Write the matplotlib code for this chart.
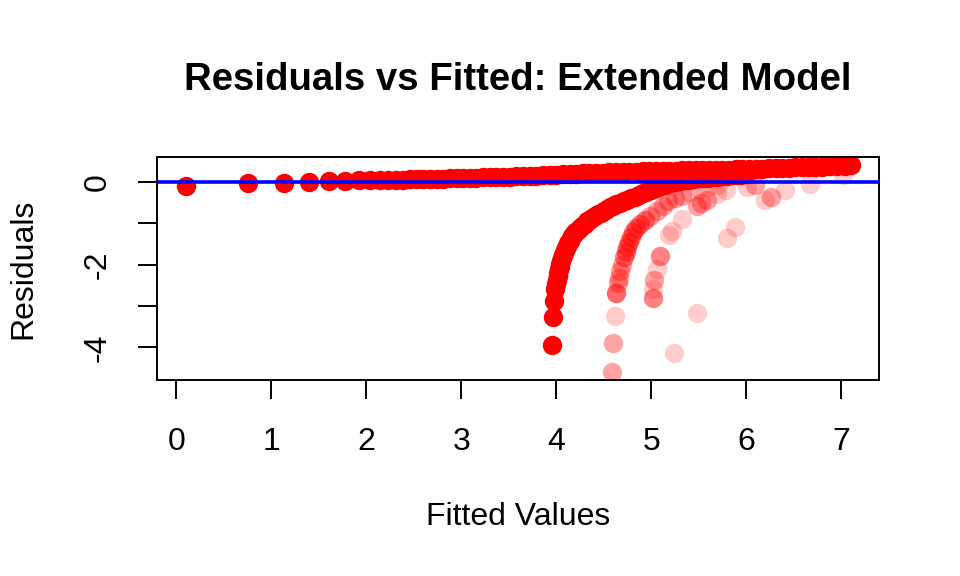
import matplotlib
matplotlib.use("Agg")
from matplotlib import pyplot as plt
import numpy as np

plt.rcParams['font.family'] = ['Liberation Sans', 'DejaVu Sans']

# upper branch (dense, drawn solid)
top_fitted = [0.10, 0.75, 1.13, 1.40, 1.61, 1.78, 1.92, 2.04, 2.14, 2.23,
              2.31, 2.39, 2.46, 2.53, 2.60, 2.67, 2.74, 2.81, 2.88, 2.95,
              3.02, 3.09, 3.16, 3.23, 3.30, 3.37, 3.44, 3.51, 3.58, 3.65,
              3.72, 3.79, 3.86, 3.93, 4.00, 4.07, 4.14, 4.21, 4.28, 4.35,
              4.42, 4.49, 4.56, 4.63, 4.70, 4.77, 4.84, 4.91, 4.98, 5.05,
              5.12, 5.19, 5.26, 5.33, 5.40, 5.47, 5.54, 5.61, 5.68, 5.75,
              5.82, 5.89, 5.96, 6.03, 6.10, 6.17, 6.24, 6.31, 6.38, 6.45,
              6.52, 6.59, 6.66, 6.73, 6.80, 6.88, 6.96, 7.04, 7.10]
top_resid = [-0.10, -0.04, -0.02, 0.00, 0.015, 0.02, 0.03, 0.035, 0.04, 0.045,
             0.05, 0.05, 0.055, 0.06, 0.06, 0.065, 0.07, 0.075, 0.08, 0.085,
             0.09, 0.095, 0.10, 0.105, 0.11, 0.115, 0.12, 0.125, 0.13, 0.135,
             0.14, 0.145, 0.15, 0.16, 0.165, 0.175, 0.185, 0.195, 0.20, 0.21,
             0.215, 0.22, 0.225, 0.23, 0.235, 0.24, 0.245, 0.25, 0.255, 0.26,
             0.265, 0.27, 0.27, 0.275, 0.275, 0.28, 0.28, 0.285, 0.285, 0.29,
             0.29, 0.295, 0.30, 0.305, 0.31, 0.315, 0.32, 0.325, 0.33, 0.34,
             0.345, 0.35, 0.355, 0.36, 0.365, 0.37, 0.375, 0.385, 0.40]

# lower main branch (dense, drawn solid)
low_fitted = [3.955, 3.965, 3.98, 3.99, 4.00, 4.01, 4.015, 4.02, 4.03, 4.035,
              4.045, 4.05, 4.06, 4.07, 4.08, 4.09, 4.10, 4.11, 4.125, 4.14,
              4.155, 4.17, 4.185, 4.20, 4.225, 4.25, 4.275, 4.30, 4.325, 4.35,
              4.38, 4.41, 4.44, 4.47, 4.50, 4.53, 4.565, 4.60, 4.635, 4.67,
              4.71, 4.75, 4.79, 4.83, 4.87, 4.91, 4.95, 5.00, 5.05, 5.10,
              5.15, 5.20, 5.25, 5.30, 5.35, 5.40, 5.45, 5.50, 5.55, 5.60,
              5.65, 5.70, 5.75, 5.80, 5.85, 5.90, 5.95, 6.00]
low_resid = [-3.94, -3.26, -2.87, -2.60, -2.48, -2.37, -2.28, -2.20, -2.12, -2.05,
             -1.98, -1.92, -1.85, -1.78, -1.72, -1.66, -1.61, -1.56, -1.49, -1.43,
             -1.37, -1.32, -1.27, -1.22, -1.16, -1.11, -1.06, -1.01, -0.96, -0.92,
             -0.88, -0.84, -0.79, -0.75, -0.70, -0.66, -0.62, -0.58, -0.545, -0.51,
             -0.47, -0.43, -0.395, -0.36, -0.32, -0.28, -0.24, -0.19, -0.14, -0.10,
             -0.07, -0.04, -0.015, 0.01, 0.03, 0.05, 0.065, 0.08, 0.09, 0.10,
             0.11, 0.12, 0.13, 0.14, 0.15, 0.16, 0.17, 0.18]

# sparse points: fitted, residual, number of overlapping observations
sparse_fitted = [4.585, 4.60, 4.62, 4.635, 4.65, 4.66, 4.67, 4.69, 4.71, 4.73,
                 4.745, 4.765, 4.785, 4.81, 4.84, 4.88, 4.93, 4.99, 5.06, 5.12,
                 5.18, 5.25, 5.32, 5.41, 5.50, 5.60, 5.70,
                 5.02, 5.02, 5.035, 5.06, 5.095, 5.19, 5.22, 5.32, 5.48,
                 5.52, 5.59, 5.69, 5.79, 6.01, 6.09,
                 5.24, 5.48, 5.80, 5.88, 6.20, 6.26, 6.41, 6.67, 7.02]
sparse_resid = [-4.59, -3.90, -3.24, -2.68, -2.45, -2.33, -2.15, -2.00, -1.83, -1.70,
                -1.57, -1.45, -1.33, -1.22, -1.12, -1.02, -0.93, -0.84, -0.70, -0.58,
                -0.47, -0.40, -0.35, -0.24, -0.18, -0.12, -0.08,
                -2.82, -2.60, -2.37, -2.10, -1.80, -1.28, -1.19, -0.90, -0.58,
                -0.52, -0.44, -0.30, -0.21, -0.12, -0.08,
                -4.13, -3.16, -1.36, -1.10, -0.44, -0.38, -0.20, -0.05, 0.15]
sparse_count = [2, 2, 1, 4, 2, 2, 2, 2, 3, 3,
                3, 3, 3, 3, 3, 3, 3, 2, 2, 2,
                2, 2, 2, 1, 1, 1, 1,
                3, 1, 2, 1, 3, 1, 1, 1, 2,
                2, 2, 1, 1, 1, 2,
                1, 1, 1, 1, 1, 2, 1, 1, 1]

base_alpha = 0.2
dense_count = 30

fig = plt.figure(figsize=(9.6, 5.76), dpi=100)
ax = fig.add_axes([157 / 960, 1 - 380 / 576, (879 - 157) / 960, (380 - 156.7) / 576])

msize = 195
dense_alpha = 1 - (1 - base_alpha) ** dense_count
ax.scatter(top_fitted, top_resid, s=msize, color='red', alpha=dense_alpha,
           linewidths=0, zorder=2)
ax.scatter(low_fitted, low_resid, s=msize, color='red', alpha=dense_alpha,
           linewidths=0, zorder=2)
for xf, yr, n in zip(sparse_fitted, sparse_resid, sparse_count):
    ax.scatter([xf], [yr], s=msize, color='red', alpha=1 - (1 - base_alpha) ** n,
               linewidths=0, zorder=2)

ax.axhline(0, color='blue', linewidth=2.6, zorder=3)

ax.set_xlim(-0.205, 7.40)
ax.set_ylim(-4.79, 0.604)

ax.set_xticks(np.arange(0, 8))
ax.set_xticklabels([str(i) for i in range(8)])
ax.set_yticks([-4, -3, -2, -1, 0])
ax.set_yticklabels(['-4', '', '-2', '', '0'], rotation=90, va='center')

for sp in ax.spines.values():
    sp.set_linewidth(1.4)
ax.tick_params(axis='both', length=13.8, width=1.4, labelsize=23, direction='out')
ax.tick_params(axis='x', pad=20)
ax.tick_params(axis='y', pad=18)

ax.set_xlabel("Fitted Values", fontsize=23)
ax.xaxis.label.set_va('center')
ax.xaxis.set_label_coords(0.5, (380 - 517) / (380 - 156.7))
ax.set_ylabel("Residuals", fontsize=23)
ax.yaxis.label.set_va('center')
ax.yaxis.label.set_ha('center')
ax.yaxis.set_label_coords((23 - 157) / (879 - 157), 0.5)

ax.set_title("Residuals vs Fitted: Extended Model", fontsize=27.6,
             fontweight='bold', y=(380 - 80) / (380 - 156.7), va='center', pad=0)

plt.savefig('out.png', dpi=100)
